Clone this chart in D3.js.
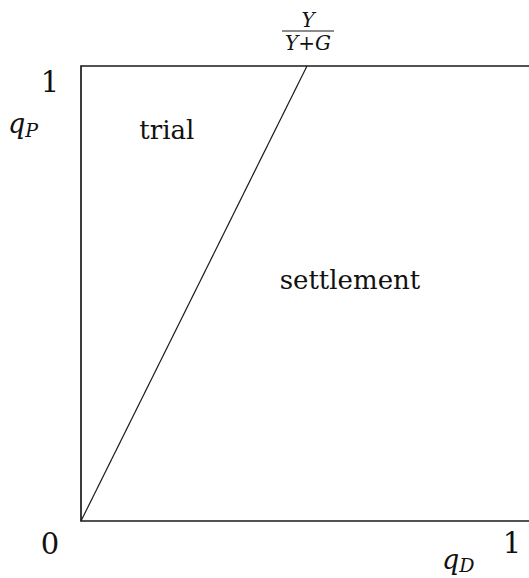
<!DOCTYPE html>
<html>
<head>
<meta charset="utf-8">
<script src="https://cdn.jsdelivr.net/npm/d3@7"></script>
<style>
  body { margin: 0; background: #fff; }
  text { font-family: "DejaVu Serif", serif; fill: #111; }
</style>
</head>
<body>
<svg id="chart" width="529" height="578"></svg>
<script>
// axes run from 0 to 1, the boundary line meets the top at Y/(Y+G)
var xDomain = [0, 1];
var yDomain = [0, 1];
var threshold = 0.5;            // Y/(Y+G)
var boundary = [[0, 0], [threshold, 1]];
var regions = [
    {name: "trial", x: 0.19, y: 0.84},
    {name: "settlement", x: 0.595, y: 0.51}
];

var svg = d3.select("#chart");

var x = d3.scaleLinear().domain(xDomain).range([81, 533]);
var y = d3.scaleLinear().domain(yDomain).range([521, 66]);

var ink = "#1a1a1a";

// top and bottom edges, left edge (right side runs off the page)
svg.append("path")
    .attr("d", d3.line()([[x(1), y(1)], [x(0), y(1)], [x(0), y(0)], [x(1), y(0)]]))
    .style("fill", "none")
    .style("stroke", ink)
    .style("stroke-width", 1.7);

// boundary between trial and settlement
svg.append("path")
    .attr("d", d3.line().x(d => x(d[0])).y(d => y(d[1]))(boundary))
    .style("fill", "none")
    .style("stroke", ink)
    .style("stroke-width", 1.2);

// region labels
svg.selectAll(".region")
    .data(regions)
    .enter().append("text")
    .classed("region", true)
    .attr("x", d => x(d.x))
    .attr("y", d => y(d.y))
    .attr("text-anchor", "middle")
    .style("font-size", "26px")
    .text(d => d.name);

// tick labels
svg.append("text").attr("x", x(0) - 31).attr("y", y(0) + 33)
    .attr("text-anchor", "middle").style("font-size", "29px").text("0");
svg.append("text").attr("x", x(1) - 21).attr("y", y(0) + 32)
    .attr("text-anchor", "middle").style("font-size", "29px").text("1");
svg.append("text").attr("x", x(0) - 31).attr("y", y(1) + 26)
    .attr("text-anchor", "middle").style("font-size", "29px").text("1");

// axis names
var qp = svg.append("text").attr("x", 8).attr("y", y(1) + 67)
    .style("font-size", "27px").style("font-style", "italic");
qp.append("tspan").text("q");
qp.append("tspan").attr("dy", 4).style("font-size", "19px").text("P");

var qd = svg.append("text").attr("x", 442).attr("y", y(0) + 48)
    .style("font-size", "27px").style("font-style", "italic");
qd.append("tspan").text("q");
qd.append("tspan").attr("dy", 3).style("font-size", "19px").text("D");

// fraction Y / (Y+G) over the top end of the boundary
var fx = x(threshold) + 1;
svg.append("text").attr("x", fx).attr("y", 27)
    .attr("text-anchor", "middle").style("font-size", "20px").style("font-style", "italic").text("Y");
svg.append("line")
    .attr("x1", fx - 26).attr("x2", fx + 26)
    .attr("y1", 31).attr("y2", 31)
    .style("stroke", ink).style("stroke-width", 1.2);
var den = svg.append("text").attr("x", fx).attr("y", 50)
    .attr("text-anchor", "middle").style("font-size", "20px");
den.append("tspan").style("font-style", "italic").text("Y");
den.append("tspan").text("+");
den.append("tspan").style("font-style", "italic").text("G");
</script>
</body>
</html>
